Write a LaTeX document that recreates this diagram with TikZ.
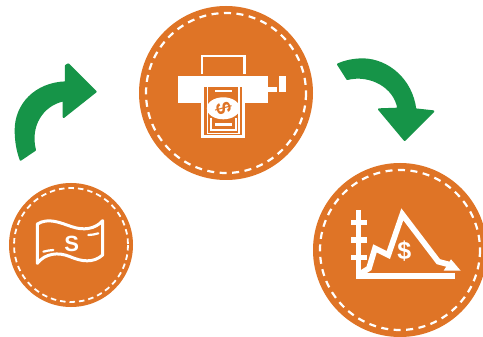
\documentclass[tikz,border=0pt]{standalone}
\usepackage{fontspec}
\setmainfont{Liberation Sans}
\definecolor{orangefill}{RGB}{223,116,38}
\definecolor{arrowgreen}{RGB}{22,148,72}
\tikzset{
  disc/.style={fill=orangefill,draw=none},
  stitchbig/.style={draw=white,line width=2.2pt,dash pattern=on 7pt off 5.5pt},
  stitchsmall/.style={draw=white,line width=1.8pt,dash pattern=on 5.5pt off 4pt},
  whiteline/.style={draw=white,line width=2.2pt,fill=none},
  greenarrow/.style={fill=arrowgreen,draw=arrowgreen,line width=2pt,line join=round},
}
\begin{document}
\begin{tikzpicture}[x=1pt,y=-1pt]
\useasboundingbox (0,0) rectangle (483,337);
\fill[white] (0,0) rectangle (483,337);
\clip (0,0) rectangle (483,337);
% discs
\fill[disc] (226,93) circle[radius=87];
\draw[stitchbig] (226,93) circle[radius=80];
\fill[disc] (400,250) circle[radius=87];
\draw[stitchbig] (400,250) circle[radius=80];
\fill[disc] (71,245) circle[radius=62];
\draw[stitchsmall] (71,245) circle[radius=57];
% arrow up-right
\begin{scope}[shift={(5,55)},x=0.3333pt,y=-0.3333pt]
\path[greenarrow] (47,314) -- (90,285) .. controls (72,215) and (110,150) .. (176,136)
  -- (176,186) -- (272,110) -- (190,28) -- (183,32) -- (183,82)
  .. controls (90,85) and (32,150) .. (32,225) .. controls (32,260) and (38,290) .. (47,314) -- cycle;
\end{scope}
% arrow down-right
\begin{scope}[shift={(330,50)},x=0.3333pt,y=-0.3333pt]
\path[greenarrow] (24,43) -- (52,87) .. controls (120,70) and (195,110) .. (205,176)
  -- (147,178) -- (224,270) -- (310,184) -- (256,178)
  .. controls (245,90) and (175,30) .. (100,28) .. controls (70,28) and (45,34) .. (24,43) -- cycle;
\end{scope}
% printer
\fill[white] (178.3,76) rectangle (268.3,103.3);
\fill[white] (268,86.7) rectangle (277,91.7);
\fill[white] (279,76) rectangle (286,91.7);
\draw[whiteline] (202,74) -- (202,56) -- (244.5,56) -- (244.5,74);
% bill
\fill[white] (201,86) rectangle (245,138);
\fill[orangefill] (204,87) rectangle (241.7,135);
\draw[white,line width=1.7pt] (207.4,87) -- (207.4,133.5) -- (239,133.5) -- (239,87);
\draw[white,line width=1.7pt] (211,118) -- (211,130) -- (236,130) -- (236,118);
\fill[white] (215,90) rectangle (232,92.5);
\fill[white] (215,123.5) rectangle (232,126);
\fill[white] (223.3,108.3) ellipse[x radius=16.5,y radius=11];
\node[text=orangefill,font=\fontsize{21}{21}\selectfont\bfseries,inner sep=0pt,rotate=-75] (billmark) at (223.3,108.3) {\$};
% chart
\begin{scope}[shift={(345,205)},x=0.3333pt,y=-0.3333pt]
\fill[white] (32,15) rectangle (48,222);
\fill[white] (18,45) rectangle (65,60);
\fill[white] (18,97) rectangle (65,113);
\fill[white] (18,150) rectangle (65,165);
\fill[white] (32,205) rectangle (330,222);
\draw[white,line width=5.7pt,line join=miter] (48,205) -- (72,190) -- (90,130) -- (130,150) -- (172,28) -- (280,170) -- (325,182);
\fill[white] (318,163) -- (347,197) -- (296,197) -- cycle;
\node[text=white,font=\fontsize{25}{25}\selectfont\bfseries,inner sep=0pt] (chartmark) at (178,138) {\$};
\end{scope}
% banknote
\begin{scope}[shift={(30,210)},x=0.3333pt,y=-0.3333pt]
\draw[white,line width=3pt,line join=round]
  (22,42) .. controls (55,22) and (90,38) .. (125,50) .. controls (160,62) and (195,58) .. (218,32)
  -- (218,135) .. controls (190,160) and (155,155) .. (120,140) .. controls (85,125) and (45,130) .. (22,160) -- cycle;
\draw[white,line width=2.2pt,line cap=round] (40,125) .. controls (50,122) and (60,121) .. (70,120);
\draw[white,line width=2.2pt,line cap=round] (175,75) .. controls (185,75) and (195,73) .. (205,70);
\node[text=white,font=\fontsize{22}{22}\selectfont\bfseries,inner sep=0pt] (notemark) at (125,103) {S};
\end{scope}
\end{tikzpicture}
\end{document}
